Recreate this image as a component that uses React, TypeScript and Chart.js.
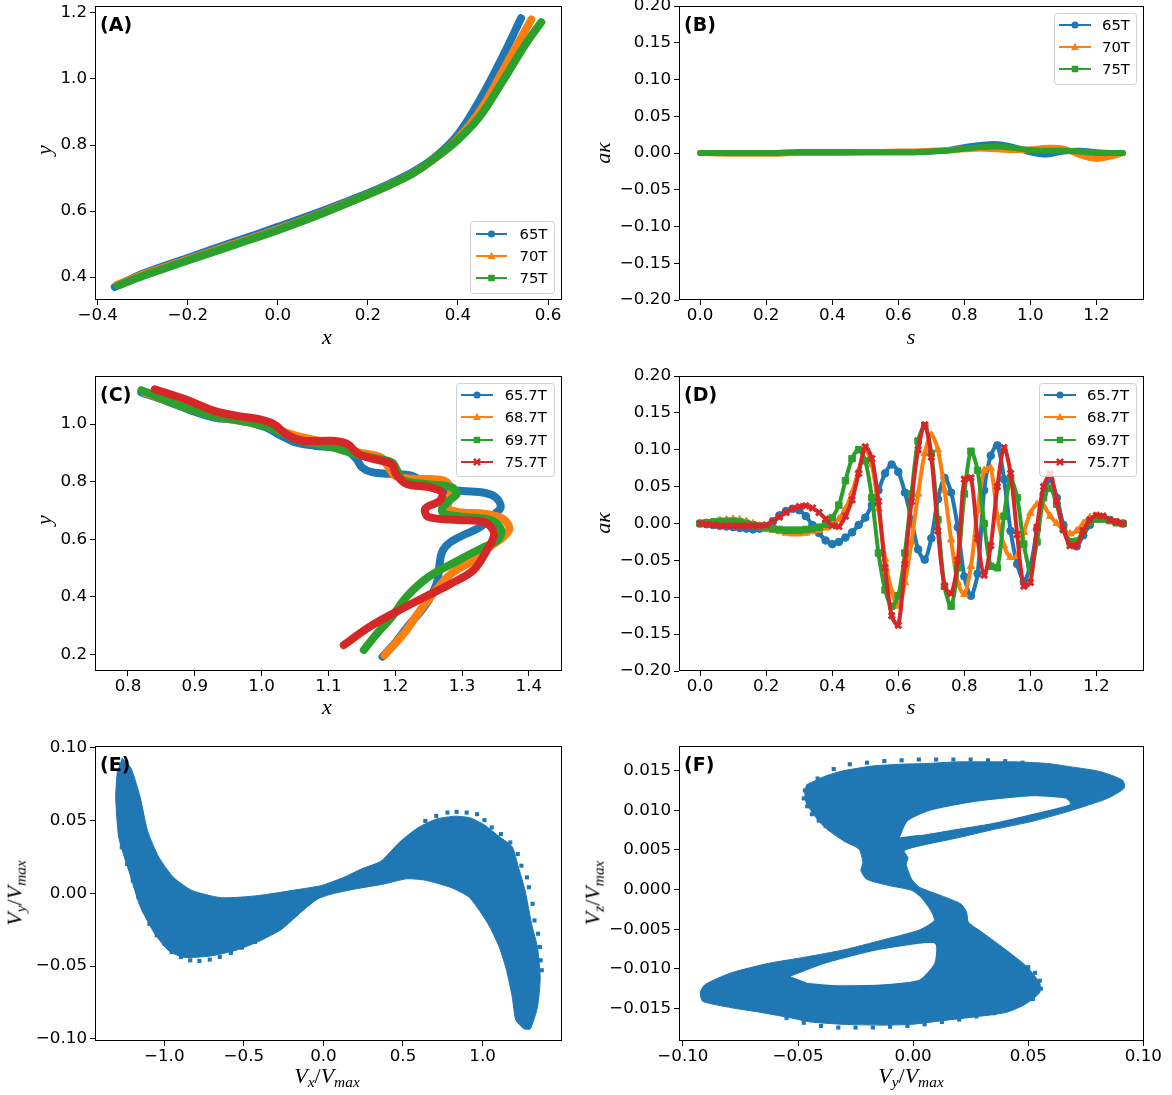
import React, { useEffect, useRef } from 'react';
import { Chart, registerables } from 'chart.js';

Chart.register(...registerables);
Chart.defaults.font.family = "'DejaVu Sans', sans-serif";
Chart.defaults.color = '#000';

// ---------------- colours ----------------
const BLUE = '#1f77b4';
const ORANGE = '#ff7f0e';
const GREEN = '#2ca02c';
const RED = '#d62728';

// ---------------- legend labels ----------------
const LABELS_AB = ['65T', '70T', '75T'];
const LABELS_CD = ['65.7T', '68.7T', '69.7T', '75.7T'];

// ---------------- tick values ----------------
const A_XTICKS = [-0.4, -0.2, 0.0, 0.2, 0.4, 0.6];
const A_YTICKS = [0.4, 0.6, 0.8, 1.0, 1.2];
const S_TICKS = [0.0, 0.2, 0.4, 0.6, 0.8, 1.0, 1.2];
const K_TICKS = [-0.2, -0.15, -0.1, -0.05, 0.0, 0.05, 0.1, 0.15, 0.2];
const C_XTICKS = [0.8, 0.9, 1.0, 1.1, 1.2, 1.3, 1.4];
const C_YTICKS = [0.2, 0.4, 0.6, 0.8, 1.0];
const E_XTICKS = [-1.0, -0.5, 0.0, 0.5, 1.0];
const E_YTICKS = [-0.1, -0.05, 0.0, 0.05, 0.1];
const F_XTICKS = [-0.1, -0.05, 0.0, 0.05, 0.1];
const F_YTICKS = [-0.015, -0.01, -0.005, 0.0, 0.005, 0.01, 0.015];

// ---------------- panel A : shapes (x, y) ----------------
const A65_X = [-0.362, -0.3, -0.2, -0.1, 0.0, 0.1, 0.2, 0.25, 0.3, 0.35, 0.4, 0.45, 0.5, 0.54];
const A65_Y = [0.370, 0.410, 0.458, 0.505, 0.552, 0.601, 0.654, 0.684, 0.718, 0.764, 0.832, 0.940, 1.070, 1.184];
const A70_X = [-0.356, -0.3, -0.2, -0.1, 0.0, 0.1, 0.2, 0.25, 0.3, 0.35, 0.4, 0.45, 0.5, 0.53, 0.563];
const A70_Y = [0.377, 0.407, 0.453, 0.499, 0.545, 0.595, 0.650, 0.680, 0.714, 0.760, 0.820, 0.905, 1.025, 1.100, 1.180];
const A75_X = [-0.355, -0.3, -0.2, -0.1, 0.0, 0.1, 0.2, 0.25, 0.3, 0.35, 0.4, 0.45, 0.5, 0.55, 0.585];
const A75_Y = [0.374, 0.403, 0.450, 0.496, 0.542, 0.593, 0.650, 0.680, 0.714, 0.762, 0.816, 0.889, 0.995, 1.105, 1.172];

// ---------------- panel B : curvature vs s ----------------
const B_S = [0, 0.1, 0.2, 0.3, 0.4, 0.5, 0.6, 0.65, 0.7, 0.75, 0.8, 0.85, 0.9, 0.95, 1.0, 1.05, 1.1, 1.15, 1.2, 1.25, 1.28];
const B65 = [0, 0, 0, 0.001, 0.001, 0.001, 0.001, 0.001, 0.002, 0.004, 0.008, 0.011, 0.012, 0.008, 0.001, -0.002, 0.002, 0.003, 0.001, 0.0, 0];
const B70 = [0, -0.001, -0.001, 0, 0, 0.001, 0.002, 0.002, 0.003, 0.004, 0.005, 0.006, 0.005, 0.004, 0.005, 0.007, 0.006, -0.003, -0.008, -0.004, 0];
const B75 = [0, 0, 0, 0.001, 0.001, 0.001, 0.001, 0.001, 0.002, 0.003, 0.006, 0.008, 0.009, 0.007, 0.004, 0.003, 0.003, 0.002, 0.0, 0.0, 0];

// ---------------- panel C : shapes (x, y) ----------------
const C657_X = [0.820, 0.860, 0.896, 0.929, 0.968, 1.007, 1.029, 1.051, 1.079, 1.106, 1.128, 1.142, 1.150, 1.165, 1.190, 1.225, 1.255, 1.290, 1.329, 1.350, 1.358, 1.345, 1.327, 1.300, 1.280, 1.270, 1.266, 1.262, 1.245, 1.220, 1.200, 1.181];
const C657_Y = [1.110, 1.078, 1.046, 1.023, 1.012, 0.988, 0.960, 0.936, 0.925, 0.919, 0.908, 0.879, 0.850, 0.833, 0.827, 0.820, 0.780, 0.769, 0.763, 0.746, 0.711, 0.680, 0.642, 0.612, 0.585, 0.555, 0.505, 0.445, 0.370, 0.300, 0.240, 0.192];
const C687_X = [0.825, 0.860, 0.896, 0.935, 0.970, 1.005, 1.030, 1.051, 1.080, 1.106, 1.145, 1.178, 1.190, 1.200, 1.228, 1.273, 1.284, 1.279, 1.295, 1.334, 1.361, 1.371, 1.361, 1.340, 1.317, 1.284, 1.261, 1.234, 1.217, 1.200, 1.184];
const C687_Y = [1.110, 1.080, 1.050, 1.025, 1.010, 0.995, 0.975, 0.960, 0.945, 0.931, 0.902, 0.885, 0.850, 0.820, 0.810, 0.804, 0.769, 0.711, 0.694, 0.688, 0.671, 0.636, 0.607, 0.570, 0.527, 0.480, 0.423, 0.342, 0.284, 0.238, 0.197];
const C697_X = [0.820, 0.885, 0.940, 0.996, 1.029, 1.051, 1.106, 1.139, 1.162, 1.195, 1.203, 1.212, 1.245, 1.284, 1.292, 1.281, 1.270, 1.273, 1.306, 1.345, 1.359, 1.353, 1.328, 1.295, 1.250, 1.217, 1.195, 1.173, 1.153];
const C697_Y = [1.118, 1.058, 1.023, 1.000, 0.971, 0.948, 0.919, 0.896, 0.885, 0.867, 0.838, 0.804, 0.792, 0.781, 0.758, 0.734, 0.706, 0.688, 0.677, 0.665, 0.630, 0.596, 0.567, 0.527, 0.469, 0.400, 0.330, 0.273, 0.215];
const C757_X = [0.840, 0.885, 0.929, 0.962, 0.996, 1.018, 1.040, 1.062, 1.106, 1.128, 1.145, 1.167, 1.195, 1.201, 1.217, 1.251, 1.270, 1.267, 1.245, 1.250, 1.295, 1.334, 1.348, 1.337, 1.317, 1.284, 1.245, 1.206, 1.162, 1.123];
const C757_Y = [1.121, 1.087, 1.046, 1.029, 1.017, 1.000, 0.960, 0.942, 0.942, 0.931, 0.896, 0.879, 0.861, 0.827, 0.792, 0.781, 0.763, 0.734, 0.706, 0.677, 0.667, 0.659, 0.619, 0.561, 0.492, 0.446, 0.400, 0.353, 0.296, 0.232];

// ---------------- panel D : curvature vs s ----------------
const D_S = [
  0.00, 0.02, 0.04, 0.06, 0.08, 0.10, 0.12, 0.14, 0.16, 0.18,
  0.20, 0.22, 0.24, 0.26, 0.28, 0.30, 0.32, 0.34, 0.36, 0.38,
  0.40, 0.42, 0.44, 0.46, 0.48, 0.50, 0.52, 0.54, 0.56, 0.58,
  0.60, 0.62, 0.64, 0.66, 0.68, 0.70, 0.72, 0.74, 0.76, 0.78,
  0.80, 0.82, 0.84, 0.86, 0.88, 0.90, 0.92, 0.94, 0.96, 0.98,
  1.00, 1.02, 1.04, 1.06, 1.08, 1.10, 1.12, 1.14, 1.16, 1.18,
  1.20, 1.22, 1.24, 1.26, 1.28];
const D657 = [
  0, -0.001, -0.002, -0.003, -0.004, -0.005, -0.006, -0.007, -0.008, -0.007,
  -0.004, 0.003, 0.011, 0.017, 0.020, 0.018, 0.010, -0.002, -0.013, -0.023,
  -0.028, -0.025, -0.019, -0.012, -0.002, 0.008, 0.025, 0.045, 0.068, 0.080,
  0.070, 0.042, 0.005, -0.035, -0.049, -0.020, 0.033, 0.062, 0.042, -0.005,
  -0.072, -0.098, -0.068, 0.045, 0.092, 0.106, 0.060, -0.010, -0.055, -0.078,
  -0.058, -0.008, 0.040, 0.060, 0.035, -0.002, -0.025, -0.031, -0.016, -0.002,
  0.007, 0.008, 0.005, 0.002, 0.000];
const D687 = [
  0, 0.001, 0.002, 0.004, 0.005, 0.006, 0.005, 0.003, 0.000, -0.003,
  -0.006, -0.009, -0.011, -0.013, -0.014, -0.014, -0.013, -0.011, -0.009, -0.006,
  -0.002, 0.006, 0.020, 0.042, 0.072, 0.100, 0.080, 0.020, -0.048, -0.092,
  -0.112, -0.080, -0.025, 0.040, 0.095, 0.120, 0.100, 0.045, -0.022, -0.080,
  -0.096, -0.058, 0.018, 0.072, 0.075, 0.010, -0.030, -0.046, -0.044, -0.012,
  0.014, 0.026, 0.024, 0.010, 0.000, -0.008, -0.014, -0.010, 0.000, 0.008,
  0.010, 0.008, 0.004, 0.001, 0.000];
const D697 = [
  0, 0.001, 0.002, 0.003, 0.003, 0.003, 0.002, 0.000, -0.002, -0.004,
  -0.006, -0.007, -0.008, -0.009, -0.009, -0.009, -0.008, -0.007, -0.005, -0.001,
  0.008, 0.025, 0.058, 0.088, 0.100, 0.085, 0.035, -0.040, -0.090, -0.112,
  -0.098, -0.040, 0.040, 0.112, 0.132, 0.095, 0.005, -0.085, -0.112, -0.060,
  0.040, 0.098, 0.072, 0.000, -0.058, -0.060, 0.010, 0.060, 0.035, -0.028,
  -0.062, -0.025, 0.035, 0.048, 0.026, -0.008, -0.025, -0.024, -0.010, 0.002,
  0.006, 0.006, 0.004, 0.001, 0.000];
const D757 = [
  0, -0.001, -0.002, -0.003, -0.003, -0.003, -0.003, -0.003, -0.003, -0.003,
  -0.002, 0.003, 0.009, 0.015, 0.020, 0.023, 0.024, 0.021, 0.015, 0.006,
  -0.003, -0.004, 0.010, 0.032, 0.068, 0.104, 0.088, 0.030, -0.060, -0.125,
  -0.138, -0.055, 0.030, 0.100, 0.134, 0.090, -0.010, -0.085, -0.095, -0.050,
  0.060, 0.062, -0.020, -0.070, -0.030, 0.050, 0.103, 0.068, -0.015, -0.085,
  -0.080, -0.005, 0.050, 0.067, 0.030, -0.008, -0.030, -0.030, -0.010, 0.005,
  0.011, 0.010, 0.005, 0.002, 0.000];

// ---------------- panel E : velocity cloud (Vx, Vy) ----------------
const E_ENVELOPE = [
  [-1.267, 0.093], [-1.209, 0.086], [-1.151, 0.066], [-1.105, 0.043], [-1.035, 0.025], [-0.942, 0.011],
  [-0.826, 0.002], [-0.640, -0.003], [-0.407, -0.0015], [-0.174, 0.0024], [-0.012, 0.0054], [0.128, 0.011],
  [0.244, 0.017], [0.360, 0.022], [0.477, 0.035], [0.593, 0.045], [0.709, 0.051], [0.826, 0.053],
  [0.919, 0.052], [1.012, 0.047], [1.105, 0.039], [1.186, 0.032], [1.225, 0.018], [1.267, 0.002],
  [1.310, -0.022], [1.345, -0.037], [1.362, -0.058], [1.345, -0.078], [1.300, -0.093], [1.260, -0.093],
  [1.209, -0.087], [1.186, -0.071], [1.151, -0.053], [1.105, -0.037], [1.035, -0.021], [0.919, -0.003],
  [0.802, 0.004], [0.640, 0.009], [0.523, 0.010], [0.384, 0.0065], [0.198, 0.003], [0.058, -0.0003],
  [-0.035, -0.0038], [-0.128, -0.0117], [-0.267, -0.025], [-0.407, -0.033], [-0.547, -0.039], [-0.709, -0.043],
  [-0.872, -0.044], [-0.965, -0.040], [-1.058, -0.028], [-1.151, -0.009], [-1.221, 0.015], [-1.285, 0.038],
  [-1.305, 0.066], [-1.295, 0.084]];
const E_FRINGE = [
  [0.640, 0.0498], [0.709, 0.0532], [0.779, 0.0555], [0.837, 0.0560], [0.900, 0.0555], [0.965, 0.0544],
  [1.012, 0.0503], [1.058, 0.0453], [1.116, 0.0407], [1.174, 0.0350], [1.221, 0.0270], [1.244, 0.0190],
  [1.279, 0.0110], [1.291, 0.0042], [1.314, -0.0072], [1.326, -0.0186], [1.349, -0.0277], [1.360, -0.0368],
  [1.365, -0.0460], [1.372, -0.0528],
  [-1.267, 0.0316], [-1.233, 0.0202], [-1.198, 0.0088], [-1.163, -0.0026], [-1.128, -0.0117], [-1.093, -0.0209],
  [-1.047, -0.0288], [-1.000, -0.0345], [-0.953, -0.0403], [-0.895, -0.0437], [-0.837, -0.0460], [-0.779, -0.0464],
  [-0.714, -0.0455], [-0.651, -0.0437], [-0.581, -0.0409], [-0.512, -0.0373], [-0.430, -0.0334]];

// ---------------- panel F : velocity cloud (Vy, Vz) ----------------
const F_ENVELOPE = [
  [-0.0472, 0.0126], [-0.0464, 0.0109], [-0.0415, 0.0088], [-0.0374, 0.0076], [-0.0300, 0.0061], [-0.0235, 0.0051],
  [-0.0218, 0.0034], [-0.0227, 0.0024], [-0.0202, 0.0013], [-0.0104, 0.0005], [-0.0006, -0.0001], [0.0035, -0.0010],
  [0.0076, -0.0026], [0.0092, -0.0039], [0.0027, -0.0051], [-0.0137, -0.0064], [-0.0300, -0.0076], [-0.0464, -0.0085],
  [-0.0627, -0.0093], [-0.0790, -0.0105], [-0.0905, -0.0120], [-0.0925, -0.0130], [-0.0914, -0.0141], [-0.0790, -0.0149],
  [-0.0660, -0.0155], [-0.0529, -0.0162], [-0.0447, -0.0167], [-0.0300, -0.0170], [-0.0137, -0.0171], [-0.0006, -0.0170],
  [0.0109, -0.0166], [0.0256, -0.0161], [0.0403, -0.0155], [0.0485, -0.0145], [0.0550, -0.0130], [0.0550, -0.0118],
  [0.0493, -0.0097], [0.0403, -0.0076], [0.0305, -0.0055], [0.0240, -0.0041], [0.0232, -0.0028], [0.0207, -0.0018],
  [0.0125, -0.0008], [0.0027, 0.0003], [-0.0006, 0.0013], [-0.0030, 0.0032], [-0.0022, 0.0040], [-0.0039, 0.0049],
  [0.0027, 0.0055], [0.0190, 0.0065], [0.0354, 0.0076], [0.0518, 0.0086], [0.0680, 0.0099], [0.0845, 0.0115],
  [0.0918, 0.0128], [0.0910, 0.0138], [0.0810, 0.0149], [0.0680, 0.0155], [0.0583, 0.0159], [0.0452, 0.0161],
  [0.0321, 0.0161], [0.0190, 0.0161], [0.0060, 0.0159], [-0.0055, 0.0158], [-0.0169, 0.0156], [-0.0300, 0.0150],
  [-0.0382, 0.0143], [-0.0464, 0.0132]];
const F_HOLE_UPPER = [
  [-0.0055, 0.0066], [-0.0022, 0.0086], [0.0076, 0.0099], [0.0272, 0.0110], [0.0518, 0.0117], [0.0665, 0.0114],
  [0.0680, 0.0108], [0.0518, 0.0096], [0.0354, 0.0085], [0.0190, 0.0077], [0.0027, 0.0069]];
const F_HOLE_LOWER = [
  [-0.0529, -0.0110], [-0.0382, -0.0094], [-0.0169, -0.0078], [0.0027, -0.0069], [0.0095, -0.0069], [0.0090, -0.0093],
  [0.0027, -0.0113], [-0.0137, -0.0119], [-0.0333, -0.0120], [-0.0464, -0.0117]];
const F_FRINGE = [
  [-0.0415, 0.0140], [-0.0345, 0.0152], [-0.0275, 0.0158], [-0.0200, 0.0160], [-0.0125, 0.0162], [-0.0050, 0.0163],
  [0.0025, 0.0164], [0.0100, 0.0164], [0.0175, 0.0164], [0.0250, 0.0164], [0.0325, 0.0163], [0.0400, 0.0162],
  [0.0475, 0.0160], [0.0550, 0.0157], [0.0625, 0.0152],
  [-0.0470, 0.0125], [-0.0475, 0.0115], [-0.0460, 0.0105], [-0.0440, 0.0095], [-0.0410, 0.0087], [-0.0380, 0.0080],
  [-0.0550, -0.0162], [-0.0475, -0.0168], [-0.0400, -0.0172], [-0.0325, -0.0174], [-0.0250, -0.0174], [-0.0175, -0.0174],
  [-0.0100, -0.0173], [-0.0025, -0.0172], [0.0050, -0.0170], [0.0125, -0.0167], [0.0200, -0.0164], [0.0275, -0.0160],
  [0.0350, -0.0156], [0.0425, -0.0150],
  [0.0555, -0.0125], [0.0550, -0.0115], [0.0530, -0.0105], [0.0500, -0.0098], [0.0460, -0.0145], [0.0520, -0.0138]];

// ---------------- layout constants ----------------
const AXW = 95;
const AXH = 40;
const PADT = 12;
const PADR = 25;

type Geo = { L: number; T: number; R: number; B: number };
type LegendItem = { label: string; color: string; marker: string };
type LegendDef = { box: number[]; rows: number[]; line: number[]; textX: number; items: LegendItem[] };
type PanelDef = {
  key: string;
  geo: Geo;
  xRange: number[];
  yRange: number[];
  xTicks: number[];
  yTicks: number[];
  xDec: number;
  yDec: number;
  datasets: any[];
  legend?: LegendDef;
};

const fmt = (v: number, d: number) => (v < -1e-12 ? '\u2212' : '') + Math.abs(v).toFixed(d);
const xy = (xs: number[], ys: number[]) => xs.map((x, i) => ({ x, y: ys[i] }));
const pr = (p: number[][]) => p.map(([x, y]) => ({ x, y }));

function band(label: string, data: any[], color: string, width: number, order: number) {
  return {
    label, data, borderColor: color, backgroundColor: color, borderWidth: width,
    pointRadius: 0, tension: 0.35, borderCapStyle: 'round', borderJoinStyle: 'round', fill: false, order,
  };
}
function marked(label: string, data: any[], color: string, style: string, radius: number, order: number) {
  return {
    label, data, borderColor: color, backgroundColor: color, borderWidth: 4,
    borderCapStyle: 'round', borderJoinStyle: 'round',
    pointRadius: radius, pointStyle: style, pointBackgroundColor: color, pointBorderColor: color,
    pointBorderWidth: style === 'crossRot' ? 3 : 1, tension: 0.3, fill: false, order,
  };
}
function poly(data: any[], color: string, order: number) {
  return {
    data, fill: 'shape', backgroundColor: color, borderColor: color, borderWidth: 1,
    pointRadius: 0, tension: 0.2, order,
  };
}
function fringe(data: any[], order: number) {
  return {
    data, showLine: false, pointStyle: 'rect', pointRadius: 2.9,
    pointBackgroundColor: BLUE, pointBorderColor: BLUE, pointBorderWidth: 0, order,
  };
}

const GEO = {
  A: { L: 95, T: 5, R: 562, B: 300 },
  B: { L: 679, T: 5, R: 1144, B: 300 },
  C: { L: 95, T: 375, R: 562, B: 671 },
  D: { L: 679, T: 375, R: 1144, B: 671 },
  E: { L: 95, T: 745, R: 562, B: 1041 },
  F: { L: 679, T: 745, R: 1144, B: 1041 },
};

const PANELS: PanelDef[] = [
  {
    key: 'A', geo: GEO.A, xRange: [-0.406, 0.631], yRange: [0.3305, 1.221],
    xTicks: A_XTICKS, yTicks: A_YTICKS, xDec: 1, yDec: 1,
    datasets: [
      band(LABELS_AB[0], xy(A65_X, A65_Y), BLUE, 8, 3),
      band(LABELS_AB[1], xy(A70_X, A70_Y), ORANGE, 8, 2),
      band(LABELS_AB[2], xy(A75_X, A75_Y), GREEN, 8, 1),
    ],
    legend: {
      box: [470, 221, 554, 293], rows: [234, 256, 278], line: [476, 507], textX: 519.5,
      items: [
        { label: LABELS_AB[0], color: BLUE, marker: 'circle' },
        { label: LABELS_AB[1], color: ORANGE, marker: 'triangle' },
        { label: LABELS_AB[2], color: GREEN, marker: 'rect' },
      ],
    },
  },
  {
    key: 'B', geo: GEO.B, xRange: [-0.064, 1.344], yRange: [-0.2, 0.2],
    xTicks: S_TICKS, yTicks: K_TICKS, xDec: 1, yDec: 2,
    datasets: [
      band(LABELS_AB[0], xy(B_S, B65), BLUE, 6, 3),
      band(LABELS_AB[1], xy(B_S, B70), ORANGE, 6, 2),
      band(LABELS_AB[2], xy(B_S, B75), GREEN, 6, 1),
    ],
    legend: {
      box: [1054, 13, 1136, 84], rows: [25, 47, 69], line: [1059, 1091], textX: 1102,
      items: [
        { label: LABELS_AB[0], color: BLUE, marker: 'circle' },
        { label: LABELS_AB[1], color: ORANGE, marker: 'triangle' },
        { label: LABELS_AB[2], color: GREEN, marker: 'rect' },
      ],
    },
  },
  {
    key: 'C', geo: GEO.C, xRange: [0.7506, 1.4497], yRange: [0.142, 1.167],
    xTicks: C_XTICKS, yTicks: C_YTICKS, xDec: 1, yDec: 1,
    datasets: [
      band(LABELS_CD[0], xy(C657_X, C657_Y), BLUE, 8, 4),
      band(LABELS_CD[1], xy(C687_X, C687_Y), ORANGE, 8, 3),
      band(LABELS_CD[2], xy(C697_X, C697_Y), GREEN, 8, 2),
      band(LABELS_CD[3], xy(C757_X, C757_Y), RED, 8, 1),
    ],
    legend: {
      box: [456, 383, 554, 476], rows: [395, 417, 440, 462], line: [461, 493], textX: 504.7,
      items: [
        { label: LABELS_CD[0], color: BLUE, marker: 'circle' },
        { label: LABELS_CD[1], color: ORANGE, marker: 'triangle' },
        { label: LABELS_CD[2], color: GREEN, marker: 'rect' },
        { label: LABELS_CD[3], color: RED, marker: 'crossRot' },
      ],
    },
  },
  {
    key: 'D', geo: GEO.D, xRange: [-0.064, 1.344], yRange: [-0.2, 0.2],
    xTicks: S_TICKS, yTicks: K_TICKS, xDec: 1, yDec: 2,
    datasets: [
      marked(LABELS_CD[0], xy(D_S, D657), BLUE, 'circle', 3.8, 4),
      marked(LABELS_CD[1], xy(D_S, D687), ORANGE, 'triangle', 4.3, 3),
      marked(LABELS_CD[2], xy(D_S, D697), GREEN, 'rect', 4.6, 2),
      marked(LABELS_CD[3], xy(D_S, D757), RED, 'crossRot', 4.2, 1),
    ],
    legend: {
      box: [1039, 383, 1136, 476], rows: [395, 417, 440, 462], line: [1044, 1076], textX: 1087,
      items: [
        { label: LABELS_CD[0], color: BLUE, marker: 'circle' },
        { label: LABELS_CD[1], color: ORANGE, marker: 'triangle' },
        { label: LABELS_CD[2], color: GREEN, marker: 'rect' },
        { label: LABELS_CD[3], color: RED, marker: 'crossRot' },
      ],
    },
  },
  {
    key: 'E', geo: GEO.E, xRange: [-1.435, 1.499], yRange: [-0.1014, 0.1012],
    xTicks: E_XTICKS, yTicks: E_YTICKS, xDec: 1, yDec: 2,
    datasets: [poly(pr(E_ENVELOPE), BLUE, 2), fringe(pr(E_FRINGE), 1)],
  },
  {
    key: 'F', geo: GEO.F, xRange: [-0.1017, 0.1003], yRange: [-0.0191, 0.0181],
    xTicks: F_XTICKS, yTicks: F_YTICKS, xDec: 2, yDec: 3,
    datasets: [
      poly(pr(F_ENVELOPE), BLUE, 4),
      poly(pr(F_HOLE_UPPER), '#ffffff', 3),
      poly(pr(F_HOLE_LOWER), '#ffffff', 2),
      fringe(pr(F_FRINGE), 1),
    ],
  },
];

function drawMarker(ctx: CanvasRenderingContext2D, kind: string, x: number, y: number, color: string) {
  const r = 3.6;
  ctx.save();
  ctx.fillStyle = color;
  ctx.strokeStyle = color;
  ctx.beginPath();
  if (kind === 'circle') {
    ctx.arc(x, y, r, 0, Math.PI * 2);
    ctx.fill();
  } else if (kind === 'triangle') {
    ctx.moveTo(x, y - r * 1.2);
    ctx.lineTo(x + r * 1.1, y + r * 0.8);
    ctx.lineTo(x - r * 1.1, y + r * 0.8);
    ctx.closePath();
    ctx.fill();
  } else if (kind === 'rect') {
    ctx.rect(x - r * 0.9, y - r * 0.9, r * 1.8, r * 1.8);
    ctx.fill();
  } else {
    ctx.lineWidth = 2.6;
    ctx.moveTo(x - r * 0.85, y - r * 0.85);
    ctx.lineTo(x + r * 0.85, y + r * 0.85);
    ctx.moveTo(x + r * 0.85, y - r * 0.85);
    ctx.lineTo(x - r * 0.85, y + r * 0.85);
    ctx.stroke();
  }
  ctx.restore();
}

const framePlugin = {
  id: 'mplFrame',
  afterDatasetsDraw(chart: any) {
    const { ctx, chartArea: a } = chart;
    ctx.save();
    ctx.strokeStyle = '#000';
    ctx.lineWidth = 1;
    ctx.strokeRect(Math.round(a.left) + 0.5, Math.round(a.top) + 0.5, Math.round(a.right - a.left) - 1, Math.round(a.bottom - a.top) - 1);
    ctx.restore();
  },
};

function legendPlugin(def: PanelDef) {
  return {
    id: 'mplLegend',
    afterDraw(chart: any) {
      const lg = def.legend;
      if (!lg) return;
      const ox = def.geo.L - AXW;
      const oy = def.geo.T - PADT;
      const ctx: CanvasRenderingContext2D = chart.ctx;
      ctx.save();
      const x0 = lg.box[0] - ox + 0.5, y0 = lg.box[1] - oy + 0.5;
      const w = lg.box[2] - lg.box[0], h = lg.box[3] - lg.box[1], rr = 3;
      ctx.beginPath();
      ctx.moveTo(x0 + rr, y0);
      ctx.lineTo(x0 + w - rr, y0);
      ctx.arcTo(x0 + w, y0, x0 + w, y0 + rr, rr);
      ctx.lineTo(x0 + w, y0 + h - rr);
      ctx.arcTo(x0 + w, y0 + h, x0 + w - rr, y0 + h, rr);
      ctx.lineTo(x0 + rr, y0 + h);
      ctx.arcTo(x0, y0 + h, x0, y0 + h - rr, rr);
      ctx.lineTo(x0, y0 + rr);
      ctx.arcTo(x0, y0, x0 + rr, y0, rr);
      ctx.closePath();
      ctx.fillStyle = 'rgba(255,255,255,0.8)';
      ctx.fill();
      ctx.strokeStyle = 'rgba(204,204,204,0.9)';
      ctx.lineWidth = 1;
      ctx.stroke();
      lg.items.forEach((it, i) => {
        const y = lg.rows[i] - oy;
        ctx.strokeStyle = it.color;
        ctx.lineWidth = 2;
        ctx.beginPath();
        ctx.moveTo(lg.line[0] - ox, y);
        ctx.lineTo(lg.line[1] - ox, y);
        ctx.stroke();
        drawMarker(ctx, it.marker, (lg.line[0] + lg.line[1]) / 2 - ox, y, it.color);
        ctx.fillStyle = '#000';
        ctx.font = "14.8px 'DejaVu Sans', sans-serif";
        ctx.textBaseline = 'middle';
        ctx.textAlign = 'left';
        ctx.fillText(it.label, lg.textX - ox, y + 1);
      });
      ctx.restore();
    },
  };
}

function buildConfig(def: PanelDef): any {
  const axisCommon = (ticks: number[], dec: number, isX: boolean) => ({
    type: 'linear',
    position: isX ? 'bottom' : 'left',
    min: isX ? def.xRange[0] : def.yRange[0],
    max: isX ? def.xRange[1] : def.yRange[1],
    afterBuildTicks: (s: any) => { s.ticks = ticks.map((v) => ({ value: v })); },
    afterFit: (s: any) => { if (isX) s.height = AXH; else s.width = AXW; },
    ticks: {
      autoSkip: false, maxRotation: 0, minRotation: 0,
      padding: isX ? 1 : 3,
      color: '#000',
      font: { size: 16.7, family: "'DejaVu Sans', sans-serif" },
      callback: (v: number) => fmt(v, dec),
    },
    grid: { drawOnChartArea: false, drawTicks: true, tickLength: 5, color: '#000', lineWidth: 1 },
    border: { display: false },
  });
  return {
    type: 'line',
    data: { datasets: def.datasets },
    options: {
      responsive: false,
      maintainAspectRatio: false,
      animation: false,
      devicePixelRatio: 1,
      events: [],
      layout: { padding: { top: PADT, right: PADR, left: 0, bottom: 0 } },
      plugins: { legend: { display: false }, tooltip: { enabled: false }, title: { display: false } },
      scales: { x: axisCommon(def.xTicks, def.xDec, true), y: axisCommon(def.yTicks, def.yDec, false) },
    },
    plugins: [framePlugin, legendPlugin(def)],
  };
}

function Panel({ def }: { def: PanelDef }) {
  const ref = useRef<HTMLCanvasElement>(null);
  const w = def.geo.R - def.geo.L + AXW + PADR;
  const h = def.geo.B - def.geo.T + PADT + AXH;
  useEffect(() => {
    const chart = new Chart(ref.current as HTMLCanvasElement, buildConfig(def));
    return () => chart.destroy();
  }, []);
  return (
    <canvas
      ref={ref}
      width={w}
      height={h}
      style={{ position: 'absolute', left: def.geo.L - AXW, top: def.geo.T - PADT, width: w, height: h, display: 'block' }}
    />
  );
}

const SERIF = "'Liberation Serif', 'DejaVu Serif', serif";
const sub: React.CSSProperties = { fontSize: '0.7em', verticalAlign: '-0.28em', fontStyle: 'italic' };

function AxisTitle({ x, y, rot, size, children }: { x: number; y: number; rot?: boolean; size: number; children: React.ReactNode }) {
  return (
    <div
      style={{
        position: 'absolute', left: x, top: y, transform: `translate(-50%, -50%)${rot ? ' rotate(-90deg)' : ''}`,
        fontFamily: SERIF, fontSize: size, lineHeight: 1, whiteSpace: 'nowrap', color: '#000', zIndex: 5,
      }}
    >
      {children}
    </div>
  );
}

function VRatio({ c }: { c: string }) {
  return (
    <span>
      <i>V</i><span style={sub}>{c}</span>/<i>V</i><span style={sub}>max</span>
    </span>
  );
}

const PANEL_LABELS = ['(A)', '(B)', '(C)', '(D)', '(E)', '(F)'];

export default function App() {
  return (
    <div style={{ position: 'absolute', left: 0, top: 0, width: 1172, height: 1095, overflow: 'hidden', background: '#fff' }}>
      {PANELS.map((p) => <Panel key={p.key} def={p} />)}
      {PANELS.map((p, i) => (
        <div
          key={'lab' + p.key}
          style={{
            position: 'absolute', left: p.geo.L + 5, top: p.geo.T + 10, fontFamily: "'DejaVu Sans', sans-serif",
            fontWeight: 'bold', fontSize: 19, lineHeight: '19px', color: '#000', zIndex: 6,
          }}
        >
          {PANEL_LABELS[i]}
        </div>
      ))}
      <AxisTitle x={327} y={337} size={22}><i>x</i></AxisTitle>
      <AxisTitle x={44} y={150} rot size={22}><i>y</i></AxisTitle>
      <AxisTitle x={911} y={337} size={22}><i>s</i></AxisTitle>
      <AxisTitle x={603} y={153} rot size={22}><i>a&kappa;</i></AxisTitle>
      <AxisTitle x={327} y={707} size={22}><i>x</i></AxisTitle>
      <AxisTitle x={44} y={520} rot size={22}><i>y</i></AxisTitle>
      <AxisTitle x={911} y={707} size={22}><i>s</i></AxisTitle>
      <AxisTitle x={603} y={523} rot size={22}><i>a&kappa;</i></AxisTitle>
      <AxisTitle x={327} y={1077} size={22}><VRatio c="x" /></AxisTitle>
      <AxisTitle x={16} y={893} rot size={22}><VRatio c="y" /></AxisTitle>
      <AxisTitle x={911} y={1077} size={22}><VRatio c="y" /></AxisTitle>
      <AxisTitle x={594} y={893} rot size={22}><VRatio c="z" /></AxisTitle>
    </div>
  );
}
